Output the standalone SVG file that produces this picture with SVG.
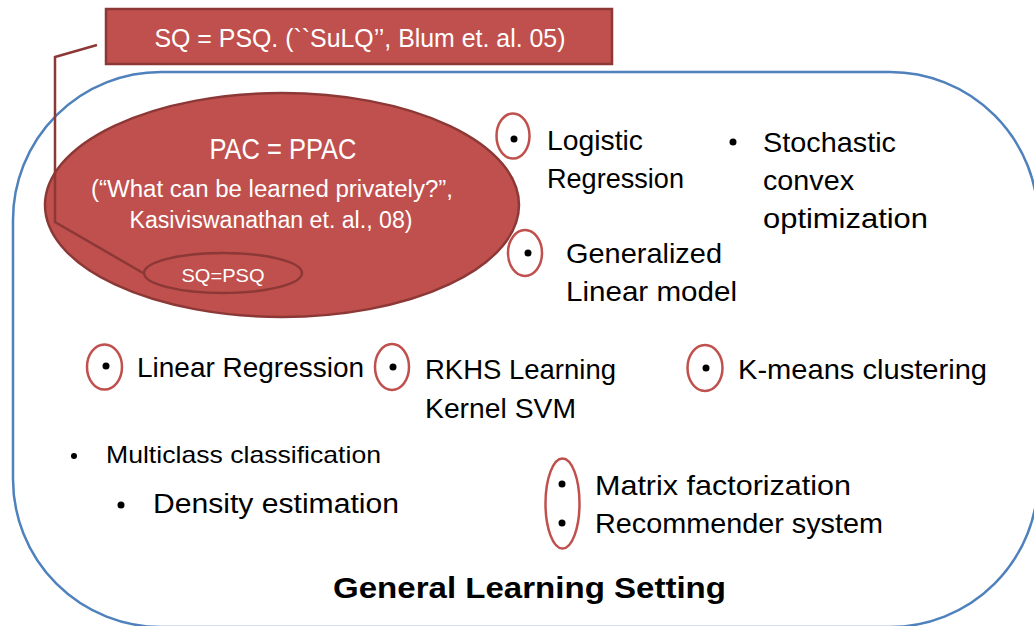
<svg xmlns="http://www.w3.org/2000/svg" width="1034" height="626" viewBox="0 0 1034 626">
<style>
text{font-family:"Liberation Sans",Arial,sans-serif;}
.w{fill:#fff;}
.k{fill:#000;font-size:28px;}
.hl{fill:none;stroke:#C0504D;stroke-width:2.5;}
.dot{fill:#000;}
.red{fill:#C0504D;stroke:#8C3836;stroke-width:2.5;}
</style>
<rect id="setting" x="13" y="72" width="1025" height="555" rx="148" ry="148" fill="none" stroke="#4F81BD" stroke-width="2.5"/>
<g id="pac">
<ellipse class="red" cx="282" cy="205" rx="237" ry="112"/>
<text class="w" x="283" y="159" font-size="29" text-anchor="middle" textLength="147" lengthAdjust="spacingAndGlyphs">PAC = PPAC</text>
<text class="w" x="272" y="197" font-size="23" text-anchor="middle" textLength="362" lengthAdjust="spacingAndGlyphs">(“What can be learned privately?”,</text>
<text class="w" x="271" y="228" font-size="23" text-anchor="middle" textLength="283" lengthAdjust="spacingAndGlyphs">Kasiviswanathan et. al., 08)</text>
</g>
<g id="sqpsq">
<ellipse class="red" cx="223" cy="273" rx="79" ry="20"/>
<text class="w" x="223" y="282" font-size="19" text-anchor="middle" textLength="83" lengthAdjust="spacingAndGlyphs">SQ=PSQ</text>
</g>
<g id="sulq">
<rect class="red" x="106" y="9" width="506" height="55"/>
<text class="w" x="360" y="47" font-size="26" text-anchor="middle" textLength="411" lengthAdjust="spacingAndGlyphs">SQ = PSQ. (``SuLQ’’, Blum et. al. 05)</text>
</g>
<g id="connectors">
<polyline points="97,45 55,57 55,222 143,273" fill="none" stroke="#8C3836" stroke-width="2.5"/>
</g>
<g id="logistic">
<ellipse class="hl" cx="513" cy="136" rx="16.5" ry="22.5"/>
<circle class="dot" cx="514" cy="139" r="3.5"/>
<text class="k" x="547" y="150" textLength="96" lengthAdjust="spacingAndGlyphs">Logistic</text>
<text class="k" x="547" y="188" textLength="137" lengthAdjust="spacingAndGlyphs">Regression</text>
</g>
<g id="stochastic">
<circle class="dot" cx="733" cy="142" r="3.5"/>
<text class="k" x="763" y="152" textLength="133" lengthAdjust="spacingAndGlyphs">Stochastic</text>
<text class="k" x="763" y="190" textLength="91" lengthAdjust="spacingAndGlyphs">convex</text>
<text class="k" x="763" y="228" textLength="165" lengthAdjust="spacingAndGlyphs">optimization</text>
</g>
<g id="glm">
<ellipse class="hl" cx="525" cy="253" rx="17" ry="23"/>
<circle class="dot" cx="528" cy="253" r="3.5"/>
<text class="k" x="566" y="263" textLength="156" lengthAdjust="spacingAndGlyphs">Generalized</text>
<text class="k" x="566" y="301" textLength="171" lengthAdjust="spacingAndGlyphs">Linear model</text>
</g>
<g id="linreg">
<ellipse class="hl" cx="104.5" cy="367" rx="17.5" ry="22.5"/>
<circle class="dot" cx="106" cy="366" r="3.5"/>
<text class="k" x="137" y="377" textLength="227" lengthAdjust="spacingAndGlyphs">Linear Regression</text>
</g>
<g id="rkhs">
<ellipse class="hl" cx="392" cy="367" rx="17" ry="23"/>
<circle class="dot" cx="393" cy="367" r="3.5"/>
<text class="k" x="425" y="379" textLength="191" lengthAdjust="spacingAndGlyphs">RKHS Learning</text>
<text class="k" x="425" y="418" textLength="151" lengthAdjust="spacingAndGlyphs">Kernel SVM</text>
</g>
<g id="kmeans">
<ellipse class="hl" cx="705" cy="368" rx="17.5" ry="23"/>
<circle class="dot" cx="706" cy="368" r="3.5"/>
<text class="k" x="738" y="379" textLength="249" lengthAdjust="spacingAndGlyphs">K-means clustering</text>
</g>
<g id="multiclass">
<circle class="dot" cx="74" cy="456" r="3"/>
<text x="106" y="463" font-size="24" fill="#000" textLength="275" lengthAdjust="spacingAndGlyphs">Multiclass classification</text>
</g>
<g id="density">
<circle class="dot" cx="121" cy="505" r="3.5"/>
<text x="153" y="513" font-size="27" fill="#000" textLength="246" lengthAdjust="spacingAndGlyphs">Density estimation</text>
</g>
<g id="matrix">
<ellipse class="hl" cx="562.5" cy="503.5" rx="17" ry="45"/>
<circle class="dot" cx="562" cy="484" r="3.5"/>
<circle class="dot" cx="562" cy="523" r="3.5"/>
<text class="k" x="595" y="495" textLength="256" lengthAdjust="spacingAndGlyphs">Matrix factorization</text>
<text class="k" x="595" y="533" textLength="288" lengthAdjust="spacingAndGlyphs">Recommender system</text>
</g>
<g id="title">
<text x="529.5" y="598" font-size="30" font-weight="bold" fill="#000" text-anchor="middle" textLength="393" lengthAdjust="spacingAndGlyphs">General Learning Setting</text>
</g>
</svg>
